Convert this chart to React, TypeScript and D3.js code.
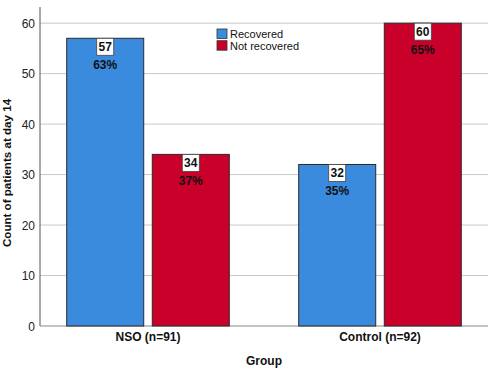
import React from 'react'
import * as d3 from 'd3'

const groups = ['NSO (n=91)', 'Control (n=92)']
const outcomes = ['Recovered', 'Not recovered']
const recovered = [57, 32]
const notRecovered = [34, 60]
const recoveredPct = ['63%', '35%']
const notRecoveredPct = ['37%', '65%']
const yTicks = [0, 10, 20, 30, 40, 50, 60]
const colors = ['#3a8ade', '#c8002a']

const W = 490
const H = 374
const left = 40
const right = 488
const top = 7
const bottom = 326

export default function App() {
  const y = d3.scaleLinear().domain([0, 63.2]).range([bottom, top])
  const x = d3.scaleBand().domain(groups).range([32, 496])
  const xs = d3.scaleBand().domain(outcomes).range([34.7, 197.3]).paddingInner(0.1).paddingOuter(0)

  const rows = groups.map((g, i) => [
    { g, key: outcomes[0], v: recovered[i], pct: recoveredPct[i] },
    { g, key: outcomes[1], v: notRecovered[i], pct: notRecoveredPct[i] },
  ]).flat()

  const font = 'Arial, "Liberation Sans", sans-serif'

  return (
    <svg width={W} height={H} style={{ position: 'absolute', left: 0, top: 0, background: '#fff' }} fontFamily={font}>
      {yTicks.map(t => (
        <g key={t}>
          {t > 0 && <line x1={left} x2={right} y1={y(t)} y2={y(t)} stroke="#c8c8c8" strokeWidth={1} />}
          <text x={35} y={y(t) + 4.5} textAnchor="end" fontSize={12} fill="#222">{t}</text>
        </g>
      ))}
      <line x1={left} x2={left} y1={top} y2={bottom} stroke="#555" strokeWidth={1} />
      <line x1={left} x2={right} y1={bottom} y2={bottom} stroke="#888" strokeWidth={1} />

      {rows.map((d, i) => {
        const bx = (x(d.g) as number) + (xs(d.key) as number)
        const bw = xs.bandwidth()
        const cx = bx + bw / 2
        const by = y(d.v)
        return (
          <g key={i}>
            <rect x={bx} y={by} width={bw} height={bottom - by}
              fill={colors[outcomes.indexOf(d.key)]} stroke="#2a2a2a" strokeWidth={1} />
            <rect x={cx - 8.5} y={by} width={17} height={17} fill="#fff" stroke="#444" strokeWidth={0.8} />
            <text x={cx} y={by + 13} textAnchor="middle" fontSize={12} fontWeight="bold" fill="#111">{d.v}</text>
            <text x={cx} y={by + 31} textAnchor="middle" fontSize={12} fontWeight="bold" fill="#111">{d.pct}</text>
          </g>
        )
      })}

      {groups.map(g => (
        <text key={g} x={(x(g) as number) + x.bandwidth() / 2} y={341} textAnchor="middle"
          fontSize={12} fontWeight="bold" fill="#111">{g}</text>
      ))}
      <text x={(left + right) / 2} y={365} textAnchor="middle" fontSize={12} fontWeight="bold" fill="#111">Group</text>
      <text transform={`translate(11,173) rotate(-90)`} textAnchor="middle"
        fontSize={11.6} fontWeight="bold" fill="#111">Count of patients at day 14</text>

      {outcomes.map((o, i) => (
        <g key={o} transform={`translate(217,${29 + i * 11.7})`}>
          <rect x={0} y={0} width={10} height={9.5} fill={colors[i]} stroke="#333" strokeWidth={0.8} />
          <text x={13} y={9} fontSize={11} fill="#111">{o}</text>
        </g>
      ))}
    </svg>
  )
}
